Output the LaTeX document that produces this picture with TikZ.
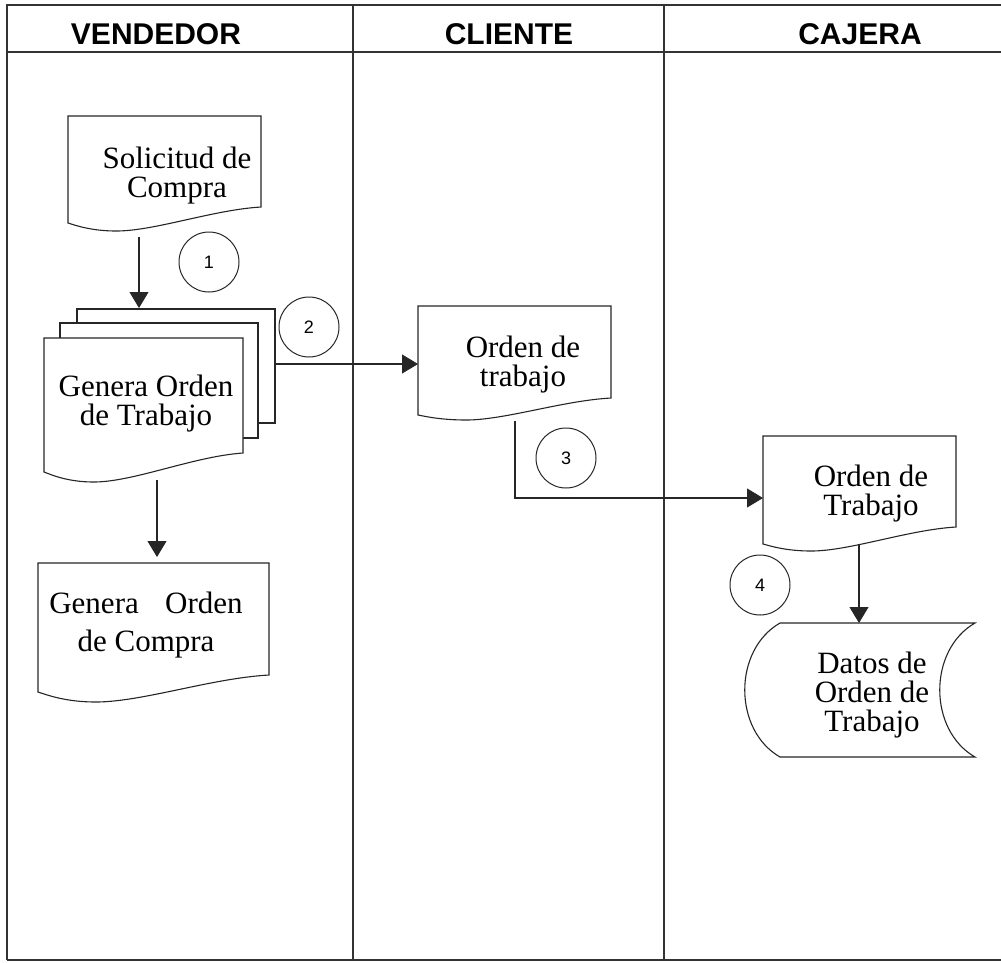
\documentclass[tikz,border=0pt]{standalone}
\usepackage{fontspec}
\setmainfont{Liberation Serif}
\newfontfamily\sansf{Liberation Sans}
\usetikzlibrary{arrows.meta}
\tikzset{
  frame/.style={line width=1.3pt, draw=black!80},
  docline/.style={line width=1.1pt, draw=black!85, fill=white},
  doctext/.style={font=\fontsize{31}{29}\selectfont, align=center, inner sep=0pt},
  header/.style={font=\sansf\bfseries\fontsize{30}{30}\selectfont, inner sep=0pt},
  stepnum/.style={circle, draw=black!85, line width=1pt, minimum size=60pt, inner sep=0pt, font=\sansf\fontsize{18}{18}\selectfont},
  flow/.style={line width=1.1pt, draw=black!85, -{Triangle[width=19pt,length=16pt]}},
}
% document shape: #1 left, #2 top, #3 right, #4 bottom-left y, #5 trough y, #6 bottom-right y
\newcommand\docshape[6]{%
  \filldraw[docline] (#1,#2) -- (#3,#2) -- (#3,#6)
    .. controls ({#1+0.75*(#3-#1)},{#6+0.12*(#5-#6)}) and ({#1+0.45*(#3-#1)},#5) .. ({#1+0.25*(#3-#1)},#5)
    .. controls ({#1+0.12*(#3-#1)},#5) and ({#1+0.04*(#3-#1)},{#4+0.3*(#5-#4)}) .. (#1,#4) -- cycle;}
\begin{document}
\begin{tikzpicture}[x=1pt,y=-1pt]
\useasboundingbox (0,0) rectangle (1001,962);
% frame and lanes
\draw[frame] (7,960) -- (7,5) -- (1001,5);
\draw[frame] (7,52) -- (1001,52);
\draw[frame] (7,960) -- (1001,960);
\draw[frame] (353,5) -- (353,960);
\draw[frame] (664,5) -- (664,960);
\node[header] (hv) at (156,34) {VENDEDOR};
\node[header] (hc) at (509,34) {CLIENTE};
\node[header] (hj) at (860,34) {CAJERA};

% Solicitud de Compra
\docshape{68}{116}{261}{223}{231}{207}
\node[doctext] (sol) at (177,175.5) {Solicitud de\\Compra};

% stacked Genera Orden de Trabajo
\filldraw[docline] (77,309) rectangle (275,423);
\filldraw[docline] (60,323) rectangle (258,438);
\docshape{44}{338}{243}{472}{482}{453}
\node[doctext] (got) at (146,404) {Genera Orden\\de Trabajo};

% Genera Orden de Compra
\docshape{38}{563}{269}{692}{702}{675}
\node[doctext, font=\fontsize{31}{38}\selectfont] (goc) at (146,625) {Genera\hspace{0.6em} Orden\\de Compra};

% Orden de trabajo (cliente)
\docshape{418}{306}{611}{415}{420}{398}
\node[doctext] (otc) at (523,365) {Orden de\\trabajo};

% Orden de Trabajo (cajera)
\docshape{763}{436}{956}{544}{551}{527}
\node[doctext] (otj) at (871,494) {Orden de\\Trabajo};

% Datos de Orden de Trabajo (stored data)
\filldraw[docline] (780,623) -- (975,623) .. controls (928,650) and (928,730) .. (975,757)
  -- (780,757) .. controls (733,730) and (733,650) .. (780,623) -- cycle;
\node[doctext] (dat) at (872,695.5) {Datos de\\Orden de\\Trabajo};

% step numbers
\node[stepnum] (n1) at (209,262) {1};
\node[stepnum] (n2) at (309,327) {2};
\node[stepnum] (n3) at (566,458) {3};
\node[stepnum] (n4) at (760,585) {4};

% connector end points
\coordinate (a1s) at (139,237);
\coordinate (a1e) at (139,308);
\coordinate (a2s) at (157,480);
\coordinate (a2e) at (157,557);
\coordinate (a3s) at (275,364);
\coordinate (a3e) at (418,364);
\coordinate (a4s) at (515,421);
\coordinate (a4m) at (515,498);
\coordinate (a4e) at (763,498);
\coordinate (a5s) at (859,545);
\coordinate (a5e) at (859,623);

\draw[flow] (a1s) -- (a1e);
\draw[flow] (a2s) -- (a2e);
\draw[flow] (a3s) -- (a3e);
\draw[flow] (a4s) -- (a4m) -- (a4e);
\draw[flow] (a5s) -- (a5e);
\end{tikzpicture}
\end{document}
